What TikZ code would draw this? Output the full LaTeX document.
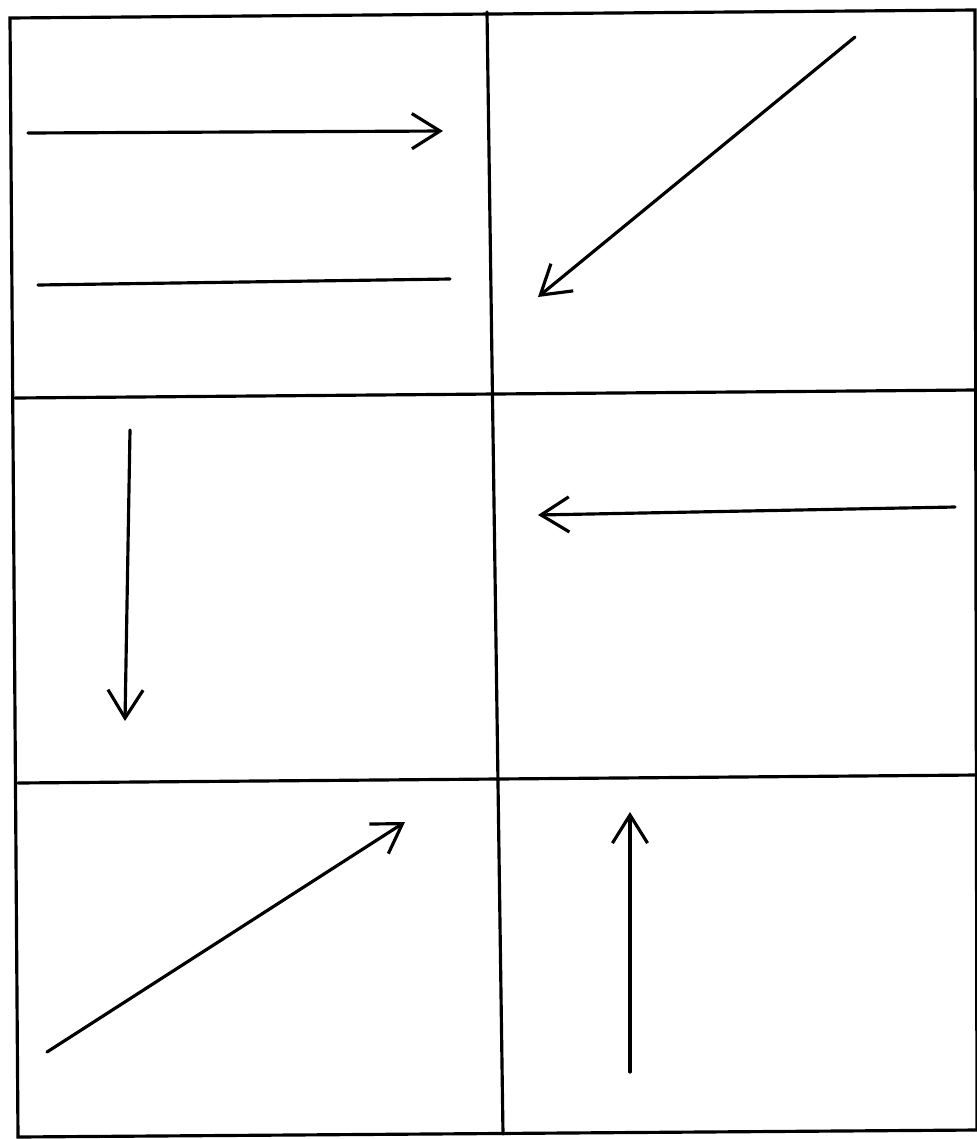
\documentclass[tikz,border=0pt]{standalone}
\usetikzlibrary{arrows.meta}
\begin{document}
\begin{tikzpicture}[x=0.01cm,y=-0.01cm,line width=.9pt,line cap=round,
		barb/.style={-{Straight Barb[length=8pt,width=10pt,line width=.9pt]}}]
		\useasboundingbox (0,0) rectangle (977,1139);
		% grid
		\coordinate (TL) at (10,18);   \coordinate (TR) at (975,10);
		\coordinate (BL) at (18,1137); \coordinate (BR) at (977,1130);
		\coordinate (MT) at (487,12);  \coordinate (MB) at (503,1134);
		\coordinate (L1) at (15,398);  \coordinate (R1) at (975,390);
		\coordinate (L2) at (18,783);  \coordinate (R2) at (977,775);
		\draw (TL)--(TR)--(BR)--(BL)--cycle;
		\draw (MT)--(MB);
		\draw (L1)--(R1) (L2)--(R2);
		% arrows
		\coordinate (a1) at (28,133);  \coordinate (b1) at (443,131);
		\coordinate (a2) at (38,285);  \coordinate (b2) at (450,279);
		\coordinate (a3) at (855,37);  \coordinate (b3) at (538,297);
		\coordinate (a4) at (130,430); \coordinate (b4) at (125,721);
		\coordinate (a5) at (955,507); \coordinate (b5) at (538,515);
		\coordinate (a6) at (47,1052); \coordinate (b6) at (405,822);
		\coordinate (a7) at (630,1072);\coordinate (b7) at (630,812);
		\foreach \n in {1,3,4,5,6,7}
			\draw[barb] (a\n)--(b\n);
		\draw (a2)--(b2);
\end{tikzpicture}
\end{document}
